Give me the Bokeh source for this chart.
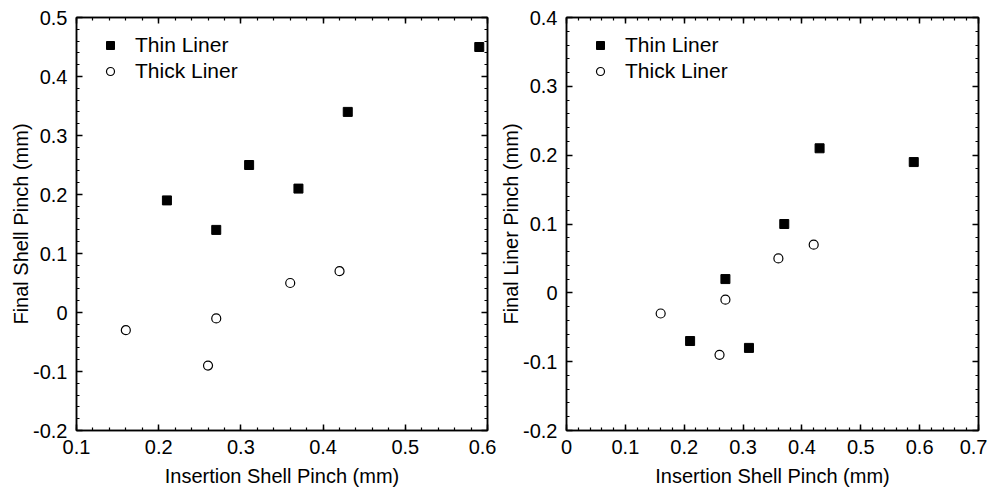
import numpy as np
from bokeh.plotting import figure
from bokeh.layouts import row
from bokeh.models import FixedTicker, LinearAxis, Legend, LegendItem
from bokeh.embed import file_html
from bokeh.resources import INLINE

# ---- data ----
thin_insertion = [0.21, 0.27, 0.31, 0.37, 0.43, 0.59]
thin_final_shell = [0.19, 0.14, 0.25, 0.21, 0.34, 0.45]
thin_final_liner = [-0.07, 0.02, -0.08, 0.10, 0.21, 0.19]

thick_insertion = [0.16, 0.26, 0.27, 0.36, 0.42]
thick_final_shell = [-0.03, -0.09, -0.01, 0.05, 0.07]
thick_final_liner = [-0.03, -0.09, -0.01, 0.05, 0.07]

series_names = ["Thin Liner", "Thick Liner"]

left_x_ticks = [0.1, 0.2, 0.3, 0.4, 0.5, 0.6]
left_x_labels = ["0.1", "0.2", "0.3", "0.4", "0.5", "0.6"]
left_y_ticks = [-0.2, -0.1, 0.0, 0.1, 0.2, 0.3, 0.4, 0.5]
left_y_labels = ["-0.2", "-0.1", "0", "0.1", "0.2", "0.3", "0.4", "0.5"]
right_x_ticks = [0.0, 0.1, 0.2, 0.3, 0.4, 0.5, 0.6, 0.7]
right_x_labels = ["0", "0.1", "0.2", "0.3", "0.4", "0.5", "0.6", "0.7"]
right_y_ticks = [-0.2, -0.1, 0.0, 0.1, 0.2, 0.3, 0.4]
right_y_labels = ["-0.2", "-0.1", "0", "0.1", "0.2", "0.3", "0.4"]

FONT = "Liberation Sans"


def make_ticker(ticks):
    lo, hi = ticks[0], ticks[-1]
    minors = [round(v, 4) for v in np.arange(lo, hi + 1e-9, 0.02)]
    return FixedTicker(ticks=ticks, minor_ticks=minors)


def style_axis(ax, ticks, labels, show_labels, is_x=True):
    ax.ticker = make_ticker(ticks)
    ax.major_label_overrides = {t: l for t, l in zip(ticks, labels)}
    ax.major_tick_in = 6
    ax.major_tick_out = 0
    ax.minor_tick_in = 3
    ax.minor_tick_out = 0
    ax.axis_line_color = "black"
    ax.axis_line_width = 1.5
    ax.major_tick_line_color = "black"
    ax.major_tick_line_width = 1.5
    ax.minor_tick_line_color = "black"
    ax.minor_tick_line_width = 1.2
    ax.major_label_text_font = FONT
    ax.axis_label_text_font = FONT
    ax.axis_label_text_font_style = "normal"
    ax.axis_label_text_color = "black"
    if show_labels:
        ax.major_label_text_color = "black"
        ax.major_label_text_font_size = "20px"
        ax.axis_label_text_font_size = "20px"
        if is_x:
            ax.major_label_standoff = 9
            ax.axis_label_standoff = 8
        else:
            ax.major_label_standoff = 9
            ax.axis_label_standoff = -2
    else:
        ax.major_label_text_color = None
        ax.major_label_text_font_size = "1px"
        ax.major_label_standoff = 0
        ax.axis_label = None


def make_panel(xr, yr, xt, xl, yt, yl, ylabel, thin_y, thick_y, left_border, right_border, fw):
    top_b, frame_h, bot_b = 17, 413, 60
    p = figure(width=left_border + fw + right_border, height=top_b + frame_h + bot_b,
               x_range=xr, y_range=yr, output_backend="svg", toolbar_location=None,
               min_border_left=left_border, min_border_right=right_border,
               min_border_top=top_b, min_border_bottom=bot_b)
    p.xgrid.visible = False
    p.ygrid.visible = False
    p.outline_line_color = "black"
    p.outline_line_width = 1.5
    p.background_fill_color = "white"
    p.border_fill_color = "white"

    p.xaxis.axis_label = "Insertion Shell Pinch (mm)"
    p.yaxis.axis_label = ylabel
    style_axis(p.xaxis[0], xt, xl, True, True)
    style_axis(p.yaxis[0], yt, yl, True, False)

    top = LinearAxis()
    style_axis(top, xt, xl, False)
    p.add_layout(top, "above")
    right = LinearAxis()
    style_axis(right, yt, yl, False)
    p.add_layout(right, "right")

    r1 = p.scatter(thin_insertion, thin_y, marker="square", size=9,
                   fill_color="black", line_color="black")
    r2 = p.scatter(thick_insertion, thick_y, marker="circle", size=9,
                   fill_color="white", line_color="black", line_width=1.2)

    leg = Legend(items=[LegendItem(label=series_names[0], renderers=[r1]),
                        LegendItem(label=series_names[1], renderers=[r2])],
                 location="top_left")
    leg.margin = 0
    leg.padding = 16
    leg.glyph_width = 36
    leg.glyph_height = 20
    leg.label_height = 20
    leg.spacing = 2
    leg.label_standoff = 7
    leg.border_line_alpha = 0
    leg.background_fill_alpha = 0
    leg.label_text_font = FONT
    leg.label_text_font_size = "21px"
    leg.label_text_color = "black"
    p.add_layout(leg, "center")
    return p


p1 = make_panel((0.1, 0.6), (-0.2, 0.5), left_x_ticks, left_x_labels,
                left_y_ticks, left_y_labels, "Final Shell Pinch (mm)",
                thin_final_shell, thick_final_shell, 76, 9, 411)
p2 = make_panel((0.0, 0.7), (-0.2, 0.4), right_x_ticks, right_x_labels,
                right_y_ticks, right_y_labels, "Final Liner Pinch (mm)",
                thin_final_liner, thick_final_liner, 70, 9, 412)

layout = row(p1, p2)
open("out.html", "w").write(file_html(layout, INLINE))
